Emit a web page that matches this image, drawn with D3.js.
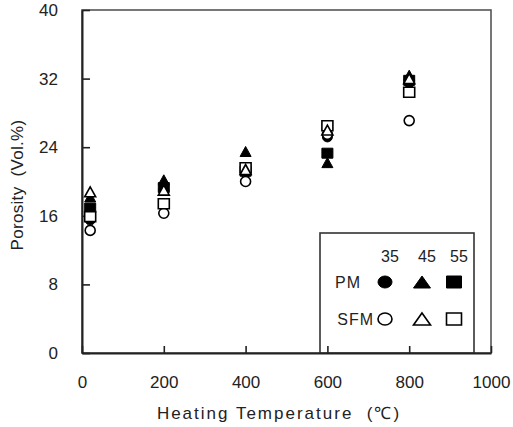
<!DOCTYPE html>
<html>
<head>
<meta charset="utf-8">
<script src="https://cdn.jsdelivr.net/npm/d3@7"></script>
<style>
  body { margin: 0; background: #fff; }
  svg { display: block; font-family: "Liberation Sans", Arial, sans-serif; }
  .axis path, .axis line { stroke: #222; }
  .axis text { font-size: 17px; fill: #222; }
  .title { white-space: pre; }
</style>
</head>
<body>
<div id="chart"></div>
<script>
// heating temperatures (°C)
const temps = [20, 200, 400, 600, 800];

// porosity (Vol.%)
const pm35  = [15.5, 19.0, 21.0, 25.2, 31.5];
const pm45  = [18.2, 20.2, 23.5, 22.2, 32.4];
const pm55  = [16.9, 19.3, 21.2, 23.3, 31.8];
const sfm35 = [14.3, 16.3, 20.0, 25.5, 27.1];
const sfm45 = [18.8, 19.0, 21.4, 26.0, 32.0];
const sfm55 = [15.9, 17.4, 21.6, 26.5, 30.4];

const xTicks = [0, 200, 400, 600, 800, 1000];
const yTicks = [0, 8, 16, 24, 32, 40];

// draw order: filled (PM) first, open (SFM) on top
const series = [
  {name: "PM 35",  values: pm35,  shape: "circle",   filled: true},
  {name: "PM 45",  values: pm45,  shape: "triangle", filled: true},
  {name: "PM 55",  values: pm55,  shape: "square",   filled: true},
  {name: "SFM 35", values: sfm35, shape: "circle",   filled: false},
  {name: "SFM 55", values: sfm55, shape: "square",   filled: false},
  {name: "SFM 45", values: sfm45, shape: "triangle", filled: false}
];

const W = 513, H = 427;
const margin = {top: 10, right: 22, bottom: 74, left: 82};
const width = W - margin.left - margin.right;
const height = H - margin.top - margin.bottom;

const svg = d3.select("#chart").append("svg")
  .attr("width", W)
  .attr("height", H);

const g = svg.append("g")
  .attr("transform", "translate(" + margin.left + "," + margin.top + ")");

const x = d3.scaleLinear().domain([0, 1000]).range([0, width]);
const y = d3.scaleLinear().domain([0, 40]).range([height, 0]);

// frame
g.append("rect")
  .attr("width", width)
  .attr("height", height)
  .attr("fill", "none")
  .attr("stroke", "#555")
  .attr("stroke-width", 1.6);

// symbol path generator (centered at 0,0)
function shapePath(shape, w, h) {
  if (shape === "square") {
    return "M" + (-w/2) + "," + (-h/2) + "h" + w + "v" + h + "h" + (-w) + "Z";
  }
  if (shape === "triangle") {
    return "M0," + (-h/2) + "L" + (w/2) + "," + (h/2) + "L" + (-w/2) + "," + (h/2) + "Z";
  }
  // ellipse
  const rx = w/2, ry = h/2;
  return "M" + (-rx) + ",0A" + rx + "," + ry + " 0 1,0 " + rx + ",0A" + rx + "," + ry + " 0 1,0 " + (-rx) + ",0Z";
}

const markSize = {circle: [10, 10], triangle: [11, 10], square: [11, 10]};

// legend box (drawn before axes so the bottom ticks show through)
const legend = g.append("g").attr("transform", "translate(" + (320 - margin.left) + "," + (233 - margin.top) + ")");
legend.append("rect")
  .attr("width", 154)
  .attr("height", 120)
  .attr("fill", "#fff")
  .attr("stroke", "#333")
  .attr("stroke-width", 1.6);

const legCols = ["35", "45", "55"];
const legX = [65, 102, 134];
legend.selectAll("text.col")
  .data(legCols)
  .enter().append("text")
  .attr("class", "col")
  .attr("x", (d, i) => legX[i] + 5)
  .attr("y", 29)
  .attr("text-anchor", "middle")
  .attr("font-size", 16)
  .attr("fill", "#222")
  .text(d => d);

const legRows = [
  {label: "PM", filled: true, y: 49, end: 41},
  {label: "SFM", filled: false, y: 86, end: 54}
];
const legShapes = ["circle", "triangle", "square"];
const legSize = {circle: [14, 12], triangle: [17, 12], square: [15, 12]};

legRows.forEach(r => {
  legend.append("text")
    .attr("x", r.end)
    .attr("y", r.y + 6)
    .attr("text-anchor", "end")
    .attr("font-size", 16)
    .attr("letter-spacing", 1)
    .attr("fill", "#222")
    .text(r.label);
  legend.selectAll(null)
    .data(legShapes)
    .enter().append("path")
    .attr("transform", (d, i) => "translate(" + legX[i] + "," + r.y + ")")
    .attr("d", d => shapePath(d, legSize[d][0], legSize[d][1]))
    .attr("fill", r.filled ? "#000" : "#fff")
    .attr("stroke", "#000")
    .attr("stroke-width", r.filled ? 1 : 1.6);
});

// axes
g.append("g")
  .attr("class", "axis")
  .attr("transform", "translate(0," + height + ")")
  .call(d3.axisBottom(x).tickValues(xTicks).tickFormat(d3.format("d"))
    .tickSizeInner(-7).tickSizeOuter(0).tickPadding(23))
  .call(a => a.select(".domain").attr("stroke-width", 2))
  .call(a => a.selectAll("line").attr("stroke-width", 1.6));

g.append("g")
  .attr("class", "axis")
  .call(d3.axisLeft(y).tickValues(yTicks).tickSizeInner(-8).tickSizeOuter(0).tickPadding(24))
  .call(a => a.select(".domain").attr("stroke-width", 2))
  .call(a => a.selectAll("line").attr("stroke-width", 1.6));

// data points
series.forEach(s => {
  const pts = temps.map((t, i) => ({t: t, v: s.values[i]}));
  g.append("g").selectAll("path")
    .data(pts)
    .enter().append("path")
    .attr("transform", d => "translate(" + x(d.t) + "," + y(d.v) + ")")
    .attr("d", shapePath(s.shape, markSize[s.shape][0], markSize[s.shape][1]))
    .attr("fill", s.filled ? "#000" : "#fff")
    .attr("stroke", "#000")
    .attr("stroke-width", s.filled ? 1 : 1.6);
});

// axis titles
svg.append("text")
  .attr("class", "title")
  .attr("x", 279)
  .attr("y", 419)
  .attr("text-anchor", "middle")
  .attr("font-size", 17)
  .attr("letter-spacing", 2)
  .attr("fill", "#222")
  .text("Heating Temperature  (℃)");

svg.append("text")
  .attr("class", "title")
  .attr("transform", "translate(23,185) rotate(-90)")
  .attr("text-anchor", "middle")
  .attr("font-size", 17)
  .attr("letter-spacing", 0.3)
  .attr("fill", "#222")
  .text("Porosity  (Vol.%)");
</script>
</body>
</html>
